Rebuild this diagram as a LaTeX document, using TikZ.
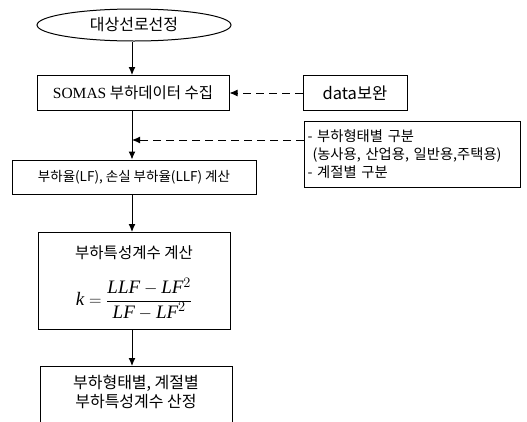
\documentclass[tikz,border=0pt]{standalone}
\usepackage{fontspec}
\setmainfont{Liberation Serif}
\newfontfamily\kr{Noto Sans CJK KR}
\usetikzlibrary{arrows.meta,shapes.geometric}
\tikzset{
  box/.style={draw, line width=1pt, rectangle, inner sep=2pt, font=\kr\fontsize{13}{15}\selectfont},
  txt/.style={inner sep=1pt, font=\kr\fontsize{14}{16}\selectfont},
  flow/.style={line width=1pt, -{Latex[length=8pt,width=7pt]}},
  dasharrow/.style={line width=1pt, dash pattern=on 8pt off 5pt, -{Latex[length=8pt,width=7pt]}},
}
\begin{document}
\begin{tikzpicture}[x=1pt,y=-1pt]
\clip (0,0) rectangle (527,421);
\coordinate (spine) at (132,0);
\node[box, ellipse, minimum width=194, minimum height=32, font=\kr\fontsize{16}{18}\selectfont] (ell) at (134,25) {대상선로선정};
\node[box, minimum width=192, minimum height=35, font=\kr\fontsize{15.5}{17}\selectfont] (somas) at (133,93) {{\rmfamily SOMAS} 부하데이터 수집};
\node[box, minimum width=104, minimum height=35, font=\kr\fontsize{16.5}{18}\selectfont] (data) at (355,93) {data보완};
\node[box, anchor=west, minimum width=216, minimum height=66, text width=210, inner xsep=3pt, align=left,
      font=\kr\fontsize{14.3}{18}\selectfont] (note) at (304,154)
  {- 부하형태별 구분\\\hspace*{5pt}(농사용, 산업용, 일반용,주택용)\\- 계절별 구분};
\node[box, minimum width=244, minimum height=34, font=\kr\fontsize{13.5}{15}\selectfont] (lf) at (134,177) {부하율(LF), 손실 부하율(LLF) 계산};
\node[box, minimum width=192, minimum height=97] (kbox) at (134,281) {};
\node[txt, font=\kr\fontsize{15.5}{18}\selectfont] (ktitle) at (134,253) {부하특성계수 계산};
\node[txt, font=\rmfamily\fontsize{19}{22}\selectfont] (kform) at (134,299)
  {$\displaystyle\textit{k}=\frac{\textit{LLF}-\textit{LF}^{2}}{\textit{LF}-\textit{LF}^{2}}$};
\node[box, minimum width=192, minimum height=90, anchor=north] (res) at (136,366) {};
\node[txt, align=center, font=\kr\fontsize{16}{18.5}\selectfont] (restext) at (136,392)
  {부하형태별, 계절별\\부하특성계수 산정};
\draw[flow] (ell.south -| spine) -- (spine |- somas.north);
\draw[flow] (somas.south -| spine) -- (spine |- lf.north);
\draw[flow] (lf.south -| spine) -- (spine |- kbox.north);
\draw[flow] (kbox.south -| spine) -- (spine |- res.north);
\draw[dasharrow] (data.west) -- (somas.east);
\coordinate (nin) at ([yshift=14pt]note.west);
\draw[dasharrow] (nin) -- (spine |- nin);
\end{tikzpicture}
\end{document}
